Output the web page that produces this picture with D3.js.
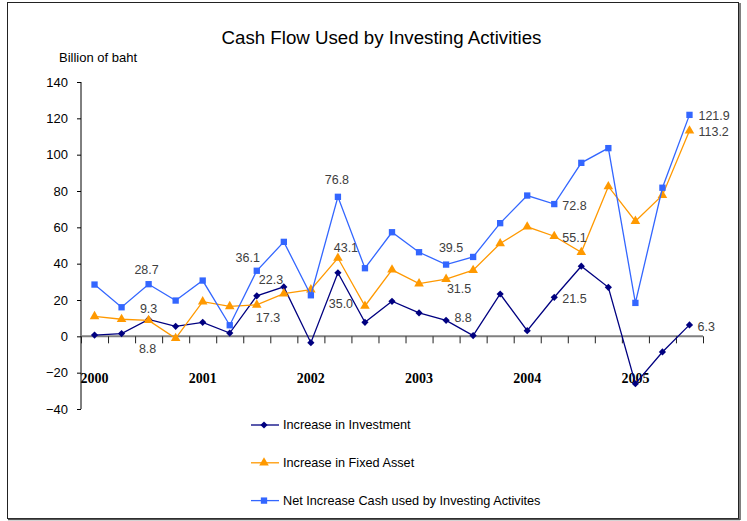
<!DOCTYPE html>
<html>
<head>
<meta charset="utf-8">
<script src="https://cdn.jsdelivr.net/npm/d3@7"></script>
<style>
  body { margin: 0; background: #fff; }
  svg { display: block; font-family: Arial, "Liberation Sans", sans-serif; }
</style>
</head>
<body>
<svg id="chart" width="747" height="521"></svg>
<script>
// quarters 2000Q1 .. 2005Q3
const quarters = d3.range(23);
const yearLabels = ["2000", "2001", "2002", "2003", "2004", "2005"];
const yTicks = [-40, -20, 0, 20, 40, 60, 80, 100, 120, 140];

const investment = [0.7, 1.5, 9.3, 5.5, 7.7, 1.8, 22.3, 27.2, -3.5, 35.0, 7.7, 19.3, 12.9, 8.8, 0.4, 23.3, 3.1, 21.5, 38.6, 27.0, -26.1, -8.6, 6.3];
const fixedAsset = [11.0, 9.4, 8.8, -1.1, 19.1, 16.5, 17.3, 23.5, 25.7, 43.1, 16.7, 36.6, 29.0, 31.5, 36.4, 51.1, 60.3, 55.1, 46.3, 82.5, 63.4, 77.7, 113.2];
const netCash = [28.5, 16.0, 28.7, 19.7, 30.7, 6.1, 36.1, 52.0, 22.6, 76.8, 37.5, 57.3, 46.3, 39.5, 43.7, 62.3, 77.5, 72.8, 95.5, 103.6, 18.4, 81.8, 121.9];

const seriesNames = ["Increase in Investment", "Increase in Fixed Asset", "Net Increase Cash used by Investing Activites"];

// which points carry a value label
const labelled = {
  inv: [2, 6, 9, 13, 17, 22],
  fixed: [2, 6, 9, 13, 17, 22],
  net: [2, 6, 9, 13, 17, 22]
};

const colors = {
  inv: "#000080",
  fixed: "#ff9900",
  net: "#3366ff",
  label: "#404040"
};

const svg = d3.select("#chart");

// frame with a little shadow on right/bottom
svg.append("rect").attr("x", 7.5).attr("y", 2.5).attr("width", 731).attr("height", 516)
  .attr("fill", "#fff").attr("stroke", "#222").attr("stroke-width", 1);
svg.append("line").attr("x1", 740).attr("x2", 740).attr("y1", 3).attr("y2", 520)
  .attr("stroke", "#555").attr("stroke-width", 1.5);
svg.append("line").attr("x1", 8).attr("x2", 740).attr("y1", 519.5).attr("y2", 519.5)
  .attr("stroke", "#555").attr("stroke-width", 1.5);

const x = d3.scaleLinear().domain([-0.5, 22.5]).range([81, 703]);
const y = d3.scaleLinear().domain([-40, 140]).range([409, 82]);

// title
svg.append("text").attr("x", 381.5).attr("y", 44).attr("text-anchor", "middle")
  .attr("font-size", 18.7).attr("fill", "#000").text("Cash Flow Used by Investing Activities");
svg.append("text").attr("x", 59).attr("y", 62)
  .attr("font-size", 13).attr("fill", "#000").text("Billion of baht");

// y axis
const yAxis = svg.append("g").attr("transform", "translate(81,0)")
  .call(d3.axisLeft(y).tickValues(yTicks).tickSize(4).tickPadding(9).tickFormat(d3.format("d")));
yAxis.select(".domain").attr("stroke", "#000").attr("d", `M0,${y(140)}V${y(-40)}`);
yAxis.selectAll(".tick line").attr("stroke", "#000");
yAxis.selectAll(".tick text").attr("font-size", 13).attr("fill", "#000")
  .attr("font-family", "Arial, 'Liberation Sans', sans-serif");

// x axis at zero
const xTickPos = d3.range(24).map(i => i - 0.5);
const xAxis = svg.append("g").attr("transform", `translate(0,${y(0)})`)
  .call(d3.axisBottom(x).tickValues(xTickPos).tickSize(7).tickFormat(""));
xAxis.select(".domain").attr("stroke", "#808080").attr("stroke-width", 2)
  .attr("d", `M${x(-0.5)},0H${x(22.5)}`);
xAxis.selectAll(".tick line").attr("stroke", "#222");

// year labels at first quarter of each year
svg.append("g").selectAll("text").data(yearLabels).join("text")
  .attr("x", (d, i) => x(i * 4))
  .attr("y", 383)
  .attr("text-anchor", "middle")
  .attr("font-family", "'Times New Roman', 'Liberation Serif', serif")
  .attr("font-weight", "bold")
  .attr("font-size", 14)
  .attr("fill", "#000")
  .text(d => d);

const line = d3.line().x((d, i) => x(quarters[i])).y(d => y(d));

// diamond = square turned 45deg (d3's diamond is too narrow)
const series = [
  { key: "inv", values: investment, shape: d3.symbolSquare, size: 26, rot: 45 },
  { key: "fixed", values: fixedAsset, shape: d3.symbolTriangle, size: 40, rot: 0 },
  { key: "net", values: netCash, shape: d3.symbolSquare, size: 40, rot: 0 }
];

series.forEach(s => {
  const g = svg.append("g");
  g.append("path").datum(s.values).attr("d", line)
    .attr("fill", "none").attr("stroke", colors[s.key]).attr("stroke-width", 1.3);
  g.selectAll("path.mk").data(s.values).join("path").attr("class", "mk")
    .attr("transform", (d, i) => `translate(${x(quarters[i])},${y(d)}) rotate(${s.rot})`)
    .attr("d", d3.symbol().type(s.shape).size(s.size))
    .attr("fill", colors[s.key]);
});

// label offsets (dx, dy from the point, anchor)
const labelPlace = {
  inv: { 2: [0, -11, "middle"], 6: [2, -16, "start"], 9: [3, 31, "middle"], 13: [17, -3, "middle"], 17: [8, 1, "start"], 22: [8, 2, "start"] },
  fixed: { 2: [-1, 28, "middle"], 6: [-1, 13, "start"], 9: [8, -10, "middle"], 13: [13, 10, "middle"], 17: [8, 1, "start"], 22: [9, 1, "start"] },
  net: { 2: [-2, -15, "middle"], 6: [-9, -13, "middle"], 9: [-1, -17, "middle"], 13: [5, -17, "middle"], 17: [8, 2, "start"], 22: [9, 1, "start"] }
};

const valuesByKey = { inv: investment, fixed: fixedAsset, net: netCash };

Object.keys(labelled).forEach(k => {
  svg.append("g").selectAll("text").data(labelled[k]).join("text")
    .attr("x", i => x(quarters[i]) + labelPlace[k][i][0])
    .attr("y", i => y(valuesByKey[k][i]) + labelPlace[k][i][1])
    .attr("dy", "0.35em")
    .attr("text-anchor", i => labelPlace[k][i][2])
    .attr("font-size", 12.5)
    .attr("fill", colors.label)
    .text(i => valuesByKey[k][i].toFixed(1));
});

// legend
const legend = svg.append("g").attr("transform", "translate(251,425)");
const legendRows = legend.selectAll("g").data(series).join("g")
  .attr("transform", (d, i) => `translate(0,${i * 37.8})`);
legendRows.append("line").attr("x1", 0).attr("x2", 28).attr("y1", 0).attr("y2", 0)
  .attr("stroke", d => colors[d.key]).attr("stroke-width", 1.3);
legendRows.append("path").attr("transform", d => `translate(13,0) rotate(${d.rot})`)
  .attr("d", d => d3.symbol().type(d.shape).size(d.size)())
  .attr("fill", d => colors[d.key]);
legendRows.append("text").attr("x", 32).attr("dy", "0.35em")
  .attr("font-size", 12.7).attr("fill", "#000")
  .text((d, i) => seriesNames[i]);
</script>
</body>
</html>
